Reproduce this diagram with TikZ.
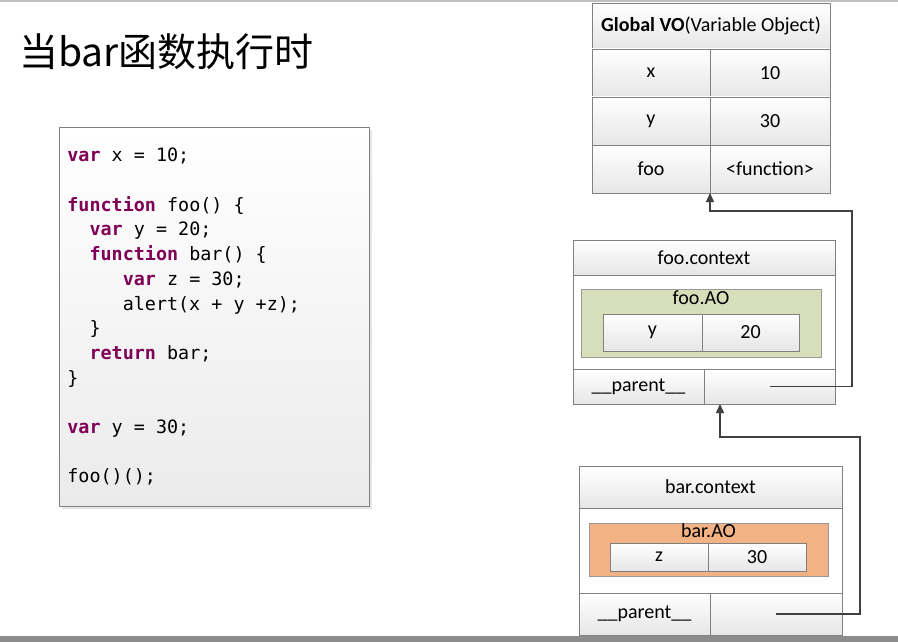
\documentclass[tikz,border=0pt]{standalone}
\usepackage{fontspec}
\setmainfont{Carlito}
\setmonofont{DejaVu Sans Mono}
\newfontfamily\cjkfont{Noto Sans CJK SC}
\usepackage{xcolor}
\usepackage{tikz}
\usetikzlibrary{arrows.meta, positioning, shadows}
\definecolor{linegray}{RGB}{128, 128, 128}
\definecolor{arrowgray}{RGB}{64, 64, 64}
\definecolor{cellgray}{RGB}{230, 230, 230}
\definecolor{keyword}{RGB}{127, 0, 85}
\definecolor{aogreen}{RGB}{214, 222, 186}
\definecolor{aoorange}{RGB}{243, 178, 132}
\definecolor{topgray}{RGB}{192, 192, 192}
\definecolor{bottomgray}{RGB}{140, 140, 140}
\newcommand{\kw}[1]{\textcolor{keyword}{\textbf{#1}}}
% full-width spaces for the code listing
\newcommand{\monospaces}{\spaceskip=0pt\xspaceskip=0pt\relax}

\begin{document}
\begin{tikzpicture}[
    x=1pt, y=-1pt,
    node distance=0pt,
    cell/.style={draw=linegray, line width=0.8pt, top color=white, bottom color=cellgray, inner sep=0pt, outer sep=0pt, font=\fontsize{20}{23}\selectfont},
    body/.style={draw=linegray, line width=0.8pt, fill=white, inner sep=0pt, outer sep=0pt},
    aobox/.style={draw=linegray!80, line width=0.8pt, inner sep=0pt, outer sep=0pt},
    aotitle/.style={anchor=north, inner sep=0pt, font=\fontsize{20}{23}\selectfont},
    codebox/.style={draw=linegray, line width=0.8pt, top color=white, bottom color=cellgray!80, align=left, inner xsep=8pt, inner ysep=0pt,
        drop shadow={shadow xshift=3pt, shadow yshift=-3pt, opacity=0.2}, font=\fontsize{18.4}{24.7}\selectfont\ttfamily},
    ptr/.style={draw=arrowgray, line width=1.3pt, -{Triangle[length=9pt, width=8pt]}}
]
\useasboundingbox (0,0) rectangle (898,642);
\fill[white] (0,0) rectangle (898,642);
\fill[topgray] (0,0) rectangle (898,2);

% Title
\node[anchor=west, inner sep=0pt, font=\cjkfont\fontsize{39}{45}\selectfont] (title) at (19,52) {当bar函数执行时};

% Code
\node[codebox, anchor=north west, minimum width=310pt, minimum height=379pt, text width=294pt] (code) at (59,127) {\monospaces
\kw{var} x = 10;\\
~\\
\kw{function} foo() \{\\
~~\kw{var} y = 20;\\
~~\kw{function} bar() \{\\
~~~~~\kw{var} z = 30;\\
~~~~~alert(x + y +z);\\
~~\}\\
~~\kw{return} bar;\\
\}\\
~\\
\kw{var} y = 30;\\
~\\
foo()();};

% Global VO
\node[cell, anchor=north west, minimum width=238pt, minimum height=46pt] (gvo) at (592,3) {\textbf{Global VO}(Variable Object)};
\node[cell, anchor=north west, minimum width=118pt, minimum height=48pt] (gx) at (gvo.south west) {x};
\node[cell, right=of gx, minimum width=120pt, minimum height=48pt] (gxv) {10};
\node[cell, below=of gx, minimum width=118pt, minimum height=48pt] (gy) {y};
\node[cell, right=of gy, minimum width=120pt, minimum height=48pt] (gyv) {30};
\node[cell, below=of gy, minimum width=118pt, minimum height=48pt] (gfoo) {foo};
\node[cell, right=of gfoo, minimum width=120pt, minimum height=48pt] (gfoov) {<function>};

% foo.context
\node[cell, anchor=north west, minimum width=262pt, minimum height=35pt] (fooctx) at (573,240) {foo.context};
\node[body, below=of fooctx, minimum width=262pt, minimum height=94pt] (foobody) {};
\node[aobox, fill=aogreen, anchor=north west, minimum width=240pt, minimum height=68pt] (fooao) at (581,289) {};
\node[aotitle] (fooaot) at ([yshift=-2pt]fooao.north) {foo.AO};
\node[cell, anchor=north west, minimum width=99pt, minimum height=37pt] (fooy) at (603,314) {y};
\node[cell, right=of fooy, minimum width=97pt, minimum height=37pt] (fooyv) {20};
\node[cell, anchor=north west, minimum width=131pt, minimum height=35pt] (foopk) at (foobody.south west) {\_\_parent\_\_};
\node[cell, right=of foopk, minimum width=131pt, minimum height=35pt] (foopv) {};

% bar.context
\node[cell, anchor=north west, minimum width=263pt, minimum height=42pt] (barctx) at (579,466) {bar.context};
\node[body, below=of barctx, minimum width=263pt, minimum height=85pt] (barbody) {};
\node[aobox, fill=aoorange, anchor=north west, minimum width=239pt, minimum height=53pt] (barao) at (589,523) {};
\node[aotitle] (baraot) at ([yshift=0pt]barao.north) {bar.AO};
\node[cell, anchor=north west, minimum width=98pt, minimum height=28pt] (barz) at (610,543) {z};
\node[cell, right=of barz, minimum width=98pt, minimum height=28pt] (barzv) {30};
\node[cell, anchor=north west, minimum width=131pt, minimum height=42pt] (barpk) at (barbody.south west) {\_\_parent\_\_};
\node[cell, right=of barpk, minimum width=132pt, minimum height=42pt] (barpv) {};

% Parent links
\draw[ptr] (foopv.center) -| (852,211) -| (gfoo.south east);
\draw[ptr] (barpv.center) -| (860,437) -| ([xshift=16pt]foopv.south west);

\fill[bottomgray] (0,636) rectangle (898,642);
\end{tikzpicture}
\end{document}
